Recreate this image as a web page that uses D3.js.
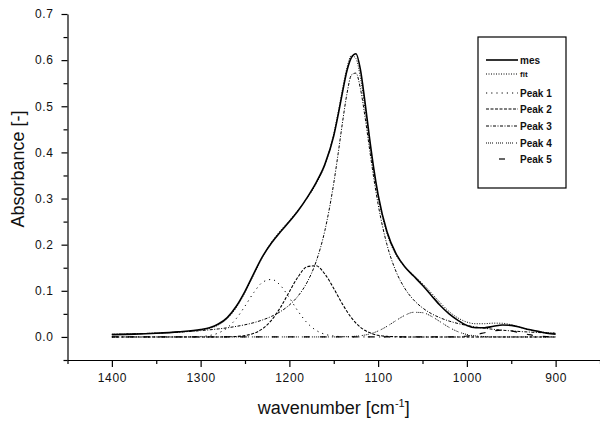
<!DOCTYPE html>
<html>
<head>
<meta charset="utf-8">
<script src="https://cdn.jsdelivr.net/npm/d3@7"></script>
<style>
  body { margin: 0; background: #fff; }
  svg text { font-family: "Liberation Sans", Arial, sans-serif; fill: #111; }
</style>
</head>
<body>
<svg id="chart" width="600" height="424"></svg>
<script>
// wavenumber grid (cm-1) shared by all series
const wavenumbers = [1400, 1375, 1350, 1325, 1300, 1290, 1280, 1270, 1260, 1250,
  1240, 1230, 1220, 1210, 1200, 1190, 1180, 1170, 1160, 1150,
  1145, 1140, 1135, 1130, 1125, 1120, 1115, 1110, 1105, 1100,
  1090, 1080, 1070, 1060, 1050, 1040, 1030, 1020, 1010, 1000,
  990, 980, 970, 960, 950, 940, 930, 920, 910, 900];

const mes = [0.005, 0.006, 0.008, 0.011, 0.016, 0.020, 0.028, 0.042, 0.066, 0.099,
  0.138, 0.175, 0.204, 0.228, 0.250, 0.274, 0.302, 0.334, 0.374, 0.436,
  0.482, 0.532, 0.578, 0.606, 0.614, 0.580, 0.512, 0.436, 0.366, 0.308,
  0.228, 0.181, 0.152, 0.132, 0.112, 0.090, 0.068, 0.050, 0.036, 0.025,
  0.020, 0.020, 0.023, 0.026, 0.025, 0.021, 0.016, 0.012, 0.008, 0.006];

const fit = [0.0056, 0.0067, 0.0083, 0.0105, 0.0147, 0.0185, 0.0259, 0.0399, 0.0632, 0.0962,
  0.1354, 0.1740, 0.2059, 0.2305, 0.2522, 0.2752, 0.3012, 0.3313, 0.3728, 0.4403,
  0.4870, 0.5382, 0.5843, 0.6103, 0.6036, 0.5625, 0.4986, 0.4274, 0.3607, 0.3040,
  0.2240, 0.1784, 0.1521, 0.1337, 0.1156, 0.0952, 0.0742, 0.0551, 0.0411, 0.0322,
  0.0286, 0.0287, 0.0299, 0.0296, 0.0263, 0.0208, 0.0155, 0.0116, 0.0095, 0.0082];

const peak1 = [0, 0, 0, 0, 0.0010, 0.0031, 0.0085, 0.0198, 0.0394, 0.0668,
  0.0965, 0.1188, 0.1246, 0.1114, 0.0849, 0.0551, 0.0305, 0.0144, 0.0058, 0.0020,
  0.0011, 0.0005, 0.0002, 0, 0, 0, 0, 0, 0, 0,
  0, 0, 0, 0, 0, 0, 0, 0, 0, 0,
  0, 0, 0, 0, 0, 0, 0, 0, 0, 0];

const peak2 = [0, 0, 0, 0, 0, 0, 0, 0.0003, 0.0010, 0.0030,
  0.0079, 0.0182, 0.0366, 0.0641, 0.0981, 0.1309, 0.1522, 0.1543, 0.1364, 0.1051,
  0.0876, 0.0706, 0.0550, 0.0414, 0.0301, 0.0211, 0.0143, 0.0094, 0.0060, 0.0036,
  0.0012, 0.0004, 0, 0, 0, 0, 0, 0, 0, 0,
  0, 0, 0, 0, 0, 0, 0, 0, 0, 0];

const peak3 = [0.0056, 0.0067, 0.0083, 0.0105, 0.0137, 0.0154, 0.0174, 0.0198, 0.0228, 0.0264,
  0.0310, 0.0370, 0.0447, 0.0550, 0.0692, 0.0892, 0.1185, 0.1626, 0.2306, 0.3332,
  0.3981, 0.4668, 0.5286, 0.5680, 0.5719, 0.5388, 0.4802, 0.4118, 0.3456, 0.2875,
  0.1998, 0.1427, 0.1054, 0.0803, 0.0630, 0.0505, 0.0414, 0.0344, 0.0291, 0.0249,
  0.0215, 0.0188, 0.0165, 0.0146, 0.0131, 0.0117, 0.0106, 0.0096, 0.0088, 0.0080];

const peak4 = [0, 0, 0, 0, 0, 0, 0, 0, 0, 0,
  0, 0, 0, 0, 0, 0, 0, 0, 0, 0,
  0.0002, 0.0003, 0.0005, 0.0009, 0.0016, 0.0026, 0.0041, 0.0062, 0.0091, 0.0129,
  0.0230, 0.0353, 0.0467, 0.0534, 0.0526, 0.0447, 0.0328, 0.0207, 0.0113, 0.0053,
  0.0022, 0.0008, 0.0002, 0, 0, 0, 0, 0, 0, 0];

const peak5 = [0, 0, 0, 0, 0, 0, 0, 0, 0, 0,
  0, 0, 0, 0, 0, 0, 0, 0, 0, 0,
  0, 0, 0, 0, 0, 0, 0, 0, 0, 0,
  0, 0, 0, 0, 0, 0, 0, 0, 0.0007, 0.0020,
  0.0049, 0.0091, 0.0132, 0.0150, 0.0132, 0.0091, 0.0049, 0.0020, 0.0007, 0.0002];

const xTicks = [1400, 1300, 1200, 1100, 1000, 900];
const xMinorTicks = [1450, 1350, 1250, 1150, 1050, 950, 850];
const yTicks = [0.0, 0.1, 0.2, 0.3, 0.4, 0.5, 0.6, 0.7];
const yMinorTicks = [-0.05, 0.05, 0.15, 0.25, 0.35, 0.45, 0.55, 0.65];

const seriesNames = ['mes', 'fit', 'Peak 1', 'Peak 2', 'Peak 3', 'Peak 4', 'Peak 5'];
const seriesValues = [mes, fit, peak1, peak2, peak3, peak4, peak5];

// line styles per series
const styles = {
  'mes':    { width: 1.6, dash: null },
  'fit':    { width: 1, dash: '1,1.5' },
  'Peak 1': { width: 1, dash: '1.2,4' },
  'Peak 2': { width: 1.1, dash: '3,1.5' },
  'Peak 3': { width: 1, dash: '3,1.5,1,1.5' },
  'Peak 4': { width: 1, dash: '1,1,1,1,1,1,1,3' },
  'Peak 5': { width: 1.2, dash: '6,10' }
};

const svg = d3.select('#chart');

const x = d3.scaleLinear().domain([1450, 850]).range([67.5, 600]);
const y = d3.scaleLinear().domain([-0.05, 0.7]).range([360, 14]);

// axes
const xAxisG = svg.append('g').attr('transform', `translate(0,${y(-0.05)})`);
xAxisG.call(d3.axisBottom(x).tickValues(xTicks).tickSize(7).tickSizeOuter(0).tickPadding(6)
  .tickFormat(d3.format('d')));
xAxisG.append('g').call(d3.axisBottom(x).tickValues(xMinorTicks).tickSize(4).tickFormat(''))
  .select('.domain').remove();

const yAxisG = svg.append('g').attr('transform', `translate(${x(1450)},0)`);
yAxisG.call(d3.axisLeft(y).tickValues(yTicks).tickSize(6).tickSizeOuter(0).tickPadding(8)
  .tickFormat(d3.format('.1f')));
yAxisG.append('g').call(d3.axisLeft(y).tickValues(yMinorTicks).tickSize(4).tickFormat(''))
  .select('.domain').remove();

svg.selectAll('.domain, .tick line').attr('stroke', '#000').attr('stroke-width', 1.2);
svg.selectAll('.tick text')
  .style('font-size', '12px')
  .style('letter-spacing', '0.6px')
  .attr('fill', '#222');

// axis labels
svg.append('text')
  .attr('transform', `translate(24,${(y(0.7) + y(-0.05)) / 2 - 18}) rotate(-90)`)
  .attr('text-anchor', 'middle')
  .style('font-size', '18px')
  .text('Absorbance [-]');

const xLabel = svg.append('text')
  .attr('x', (x(1450) + x(850)) / 2)
  .attr('y', 414)
  .attr('text-anchor', 'middle')
  .style('font-size', '18px');
xLabel.append('tspan').text('wavenumber [cm');
xLabel.append('tspan').attr('dy', -7).style('font-size', '11px').text('-1');
xLabel.append('tspan').attr('dy', 7).text(']');

// curves
const line = d3.line()
  .x((d, i) => x(wavenumbers[i]))
  .y(d => y(d))
  .curve(d3.curveMonotoneX);

const drawOrder = [6, 5, 4, 3, 2, 1, 0];
drawOrder.forEach(k => {
  const st = styles[seriesNames[k]];
  svg.append('path')
    .datum(seriesValues[k])
    .attr('d', line)
    .attr('fill', 'none')
    .attr('stroke', '#000')
    .attr('stroke-width', st.width)
    .attr('stroke-dasharray', st.dash);
});

// legend
const legend = svg.append('g').attr('class', 'legend');
legend.append('rect')
  .attr('x', 478).attr('y', 37)
  .attr('width', 88).attr('height', 151)
  .attr('fill', '#fff')
  .attr('stroke', '#000')
  .attr('stroke-width', 1.2);

const legendY = [60, 74, 93, 109, 126, 143, 159];
seriesNames.forEach((name, i) => {
  const st = styles[name];
  const row = legend.append('g').attr('transform', `translate(0,${legendY[i]})`);
  const sample = row.append('line')
    .attr('x1', 486).attr('x2', 518)
    .attr('stroke', '#000')
    .attr('stroke-width', st.width)
    .attr('stroke-dasharray', st.dash);
  if (name === 'Peak 5') sample.attr('x1', 499).attr('x2', 505).attr('stroke-dasharray', null);
  row.append('text')
    .attr('x', 520)
    .attr('y', name === 'fit' ? 3 : 3.5)
    .style('font-size', name === 'fit' ? '8px' : '10px')
    .style('font-weight', 'bold')
    .text(name);
});
</script>
</body>
</html>
